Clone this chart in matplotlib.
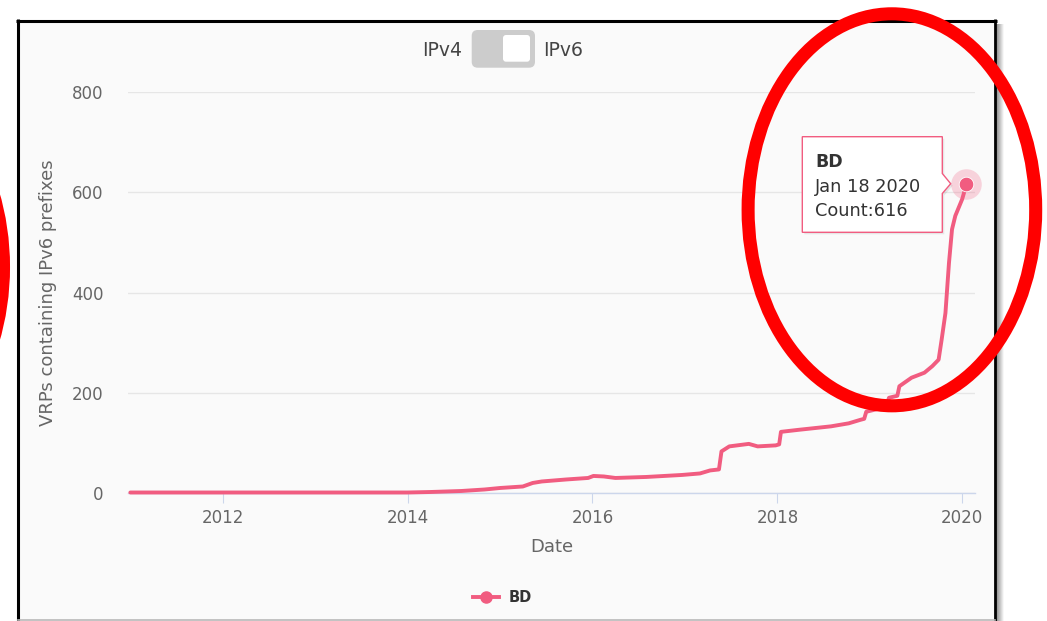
import matplotlib
matplotlib.use("Agg")
import matplotlib.pyplot as plt
import matplotlib.dates as mdates
from matplotlib.patches import Ellipse, FancyBboxPatch, Polygon, Rectangle
from matplotlib.lines import Line2D
import numpy as np
import pandas as pd

# ---------------- data ----------------
series_name = "BD"
dates = [
    "2011-01-01", "2013-12-31", "2014-04-01", "2014-08-01", "2014-11-01",
    "2015-01-01", "2015-04-01", "2015-05-10", "2015-06-15", "2015-09-20",
    "2015-12-15", "2016-01-05", "2016-02-15", "2016-04-01", "2016-08-01",
    "2016-12-20", "2017-03-01", "2017-04-10", "2017-05-15", "2017-05-25",
    "2017-06-25", "2017-09-10", "2017-10-15", "2017-12-25", "2018-01-08",
    "2018-01-15", "2018-03-25", "2018-08-01", "2018-10-10", "2018-11-25",
    "2018-12-10", "2018-12-18", "2019-02-20", "2019-03-10", "2019-03-18",
    "2019-04-20", "2019-04-28", "2019-06-15", "2019-08-05", "2019-09-05",
    "2019-09-30", "2019-10-12", "2019-10-27", "2019-11-10", "2019-11-22",
    "2019-12-05", "2020-01-01", "2020-01-18",
]
counts = [
    1, 1, 2, 4, 7,
    10, 13, 20, 23, 27,
    30, 34, 33, 30, 32,
    36, 39, 45, 47, 83,
    93, 98, 93, 95, 97,
    122, 126, 133, 139, 146,
    148, 162, 170, 178, 190,
    194, 213, 230, 240, 253,
    266, 306, 359, 459, 526,
    553, 586, 616,
]
y_ticks = [0, 200, 400, 600, 800]
x_tick_years = [2012, 2014, 2016, 2018, 2020]
x_range = ["2010-12-24", "2020-02-22"]
y_title = "VRPs containing IPv6 prefixes"
x_title = "Date"
toggle_labels = ["IPv4", "IPv6"]

dates_ts = pd.to_datetime(dates)
line_color = "#f15c80"

# ---------------- figure ----------------
W, H = 1047, 621
fig = plt.figure(figsize=(W / 100, H / 100), dpi=100)
fig.patch.set_facecolor("white")
plt.rcParams["font.family"] = ["DejaVu Sans"]

def fx(px):
    return px / W

def fy(py):
    return 1 - py / H

# background / frame layer (pixel coords)
bg = fig.add_axes([0, 0, 1, 1], zorder=0)
bg.set_xlim(0, W)
bg.set_ylim(H, 0)
bg.axis("off")
bg.add_patch(Rectangle((17.5, 20.5), 995 - 17.5, H, facecolor="#fafafa", edgecolor="none"))
for i, a in enumerate(np.linspace(0.45, 0.03, 8)):
    bg.add_patch(Rectangle((996 + i, 24), 1, H, facecolor="black", alpha=a,
                           edgecolor="none", linewidth=0))
bg.plot([17.5, 17.5], [19, H + 5], color="black", lw=2.2, solid_capstyle="butt")
bg.plot([16, 996.5], [20.5, 20.5], color="black", lw=2.2, solid_capstyle="butt")
bg.plot([995, 995], [19, H + 5], color="black", lw=2.0, solid_capstyle="butt")
bg.plot([17.5, 995], [619.8, 619.8], color="#b8b8b8", lw=1.2)

# toggle
bg.add_patch(FancyBboxPatch((471.7, 30), 63.3, 37.7,
                            boxstyle="round,pad=0,rounding_size=6",
                            facecolor="#cccccc", edgecolor="none"))
bg.add_patch(FancyBboxPatch((503, 35), 27, 26.7,
                            boxstyle="round,pad=0,rounding_size=3",
                            facecolor="white", edgecolor="none"))
bg.text(442, 56.5, toggle_labels[0], ha="center", va="baseline",
        fontsize=13.5, color="#444444")
bg.text(563, 56.5, toggle_labels[1], ha="center", va="baseline",
        fontsize=13.5, color="#444444")

# ---------------- main axes ----------------
left_px, right_px, top_px, bot_px = 128.3, 975.3, 92, 493
ax = fig.add_axes([fx(left_px), fy(bot_px), (right_px - left_px) / W,
                   (bot_px - top_px) / H], zorder=1)
ax.set_facecolor("none")
ax.plot(dates_ts, counts, color=line_color, lw=2.8, solid_joinstyle="round",
        solid_capstyle="round", zorder=3, clip_on=False)
# hovered point
ax.plot(dates_ts[-1:], counts[-1:], "o", ms=22, color=line_color, alpha=0.25,
        mec="none", zorder=4, clip_on=False)
ax.plot(dates_ts[-1:], counts[-1:], "o", ms=10.5, color=line_color,
        mec="white", mew=0.6, zorder=5, clip_on=False)

ax.set_xlim(pd.Timestamp(x_range[0]), pd.Timestamp(x_range[1]))
ax.set_ylim(y_ticks[0], y_ticks[-1])
ax.set_yticks(y_ticks)
ax.set_yticklabels([str(v) for v in y_ticks])
ax.set_xticks([pd.Timestamp(f"{y}-01-01") for y in x_tick_years])
ax.set_xticklabels([str(y) for y in x_tick_years])

for s in ["top", "right", "left"]:
    ax.spines[s].set_visible(False)
ax.spines["bottom"].set_color("#ccd6eb")
ax.spines["bottom"].set_linewidth(1.0)
ax.grid(axis="y", color="#e6e6e6", lw=1.0)
ax.set_axisbelow(True)
ax.tick_params(axis="y", length=0, pad=18, labelsize=12, labelcolor="#666666")
ax.tick_params(axis="x", length=7.5, width=0.8, color="#ccd6eb", direction="out",
               pad=4, labelsize=12, labelcolor="#666666")

ax.set_xlabel(x_title, fontsize=13, color="#666666")
ax.xaxis.label.set_va("center")
ax.xaxis.set_label_coords(0.5, (bot_px - 547.5) / (bot_px - top_px))
ax.set_ylabel(y_title, fontsize=13, color="#666666")
ax.yaxis.label.set_va("center")
ax.yaxis.set_label_coords((48.5 - left_px) / (right_px - left_px), 0.5)

# legend
handle = Line2D([], [], color=line_color, lw=2.8, marker="o", ms=8)
leg = ax.legend([handle], [series_name], loc="center",
                bbox_to_anchor=(fx(502.4), fy(597.5)), bbox_transform=fig.transFigure,
                frameon=False, borderpad=0, handlelength=1.75, handletextpad=0.66,
                prop={"size": 10.5, "weight": "bold"}, labelcolor="#333333")

# ---------------- overlay (tooltip + annotations) ----------------
ov = fig.add_axes([0, 0, 1, 1], zorder=3)
ov.set_xlim(0, W)
ov.set_ylim(H, 0)
ov.axis("off")
ov.patch.set_visible(False)

tip = [(802.3, 136.7), (942.3, 136.7), (942.3, 173.5), (950.7, 183.7),
       (942.3, 193.5), (942.3, 232.3), (802.3, 232.3)]
shadow = [(x + 2, y + 2) for x, y in tip]
ov.add_patch(Polygon(shadow, closed=True, facecolor="black", alpha=0.08, edgecolor="none"))
ov.add_patch(Polygon(tip, closed=True, facecolor="white", edgecolor=line_color,
                     lw=1.0, joinstyle="miter"))
d = dates_ts[-1]
ov.text(815, 166.7, series_name, fontsize=12.5, fontweight="bold", color="#333333",
        va="baseline", ha="left")
ov.text(815, 192, f"{d:%b} {d.day} {d:%Y}", fontsize=12.8, color="#333333",
        va="baseline", ha="left")
ov.text(815, 216.5, f"Count:{counts[-1]}", fontsize=12.8, color="#333333",
        va="baseline", ha="left")

# red hand-drawn style ellipses
ov.add_patch(Ellipse((891.9, 209.8), 2 * 143.8, 2 * 196, fill=False,
                     edgecolor="#ff0000", lw=9.4))
ov.add_patch(Ellipse((-140.3, 267), 2 * 143.8, 2 * 196, fill=False,
                     edgecolor="#ff0000", lw=9.4))

fig.savefig("out.png", dpi=100, facecolor="white")
